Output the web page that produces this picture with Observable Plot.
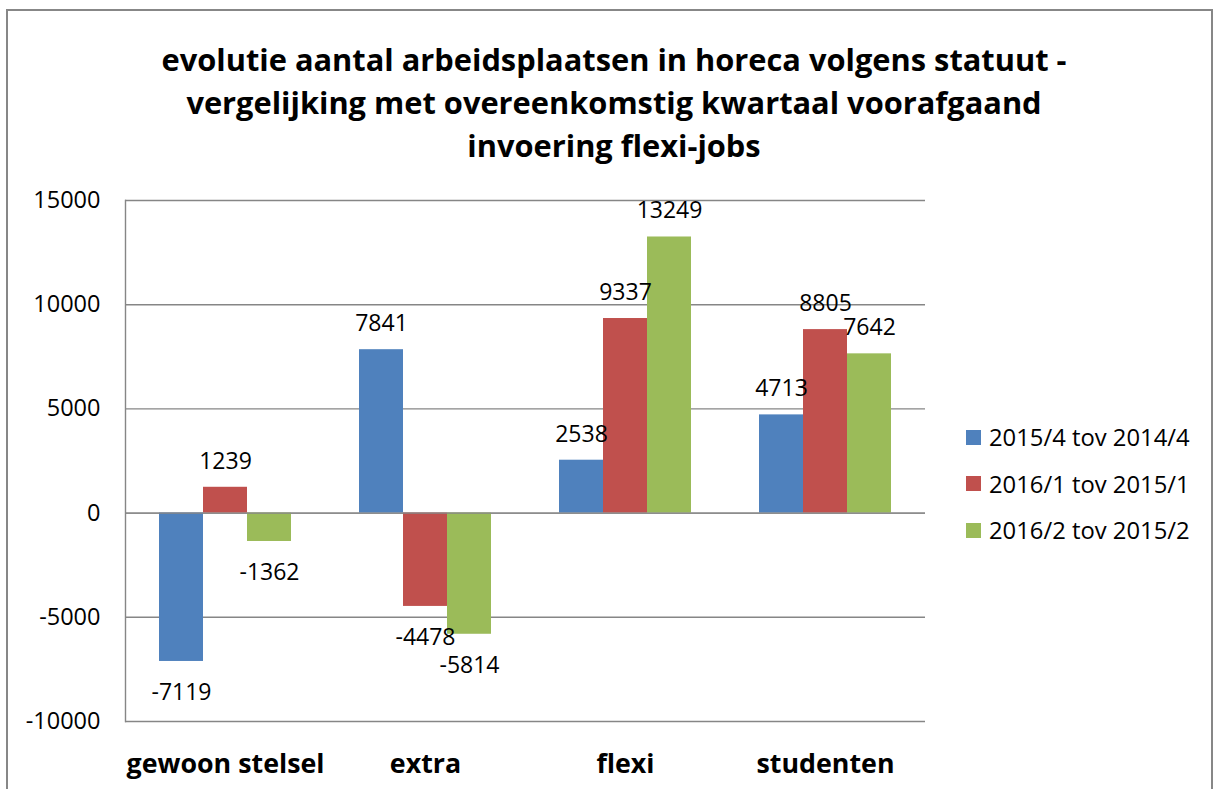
<!DOCTYPE html>
<html>
<head>
<meta charset="utf-8">
<script src="https://cdn.jsdelivr.net/npm/d3@7"></script>
<script src="https://cdn.jsdelivr.net/npm/@observablehq/plot@0.6"></script>
<style>
  html, body { margin: 0; padding: 0; background: #fff; width: 1221px; height: 789px; overflow: hidden; }
  body { font-family: "Open Sans", sans-serif; color: #000; }
  #box { position: absolute; left: 6px; top: 9px; width: 1207px; height: 900px;
         border: 2px solid #878787; border-bottom: none; box-sizing: border-box; }
  #title { position: absolute; left: 0; top: 38px; width: 1228px; text-align: center;
           font-weight: bold; font-size: 30.8px; line-height: 43px; }
  #chart { position: absolute; left: 0; top: 150px; }
  #legend { position: absolute; left: 966px; top: 414px; font-size: 23.8px; }
  .item { display: flex; align-items: center; height: 46.5px; }
  .sw { width: 15px; height: 15px; margin-right: 8px; }
</style>
</head>
<body>
<div id="box"></div>
<div id="title"></div>
<div id="chart"></div>
<div id="legend"></div>
<script>
const titleLines = [
  "evolutie aantal arbeidsplaatsen in horeca volgens statuut -",
  "vergelijking met overeenkomstig kwartaal voorafgaand",
  "invoering flexi-jobs"
];
const categories = ["gewoon stelsel", "extra", "flexi", "studenten"];
const seriesNames = ["2015/4 tov 2014/4", "2016/1 tov 2015/1", "2016/2 tov 2015/2"];
const seriesColors = ["#4F81BD", "#C0504D", "#9BBB59"];
const values2015q4 = [-7119, 7841, 2538, 4713];
const values2016q1 = [1239, -4478, 9337, 8805];
const values2016q2 = [-1362, -5814, 13249, 7642];
const yTicks = [-10000, -5000, 0, 5000, 10000, 15000];

const seriesValues = [values2015q4, values2016q1, values2016q2];
const data = [];
categories.forEach((c, i) => {
  seriesNames.forEach((s, j) => data.push({cat: c, series: s, value: seriesValues[j][i]}));
});

document.getElementById("title").innerHTML = titleLines.map(t => `<div>${t}</div>`).join("");
document.getElementById("legend").innerHTML = seriesNames.map((s, j) =>
  `<div class="item"><div class="sw" style="background:${seriesColors[j]}"></div><span>${s}</span></div>`).join("");

const gray = "#868686";
const chart = Plot.plot({
  width: 1221,
  height: 641,
  marginLeft: 125,
  marginRight: 296,
  marginTop: 50,
  marginBottom: 70,
  style: {fontFamily: "Open Sans, sans-serif", fontSize: "23px", color: "#000", background: "transparent"},
  fx: {domain: categories, padding: 0},
  x: {domain: seriesNames, paddingInner: 0, paddingOuter: 0.7727, axis: null},
  y: {domain: [-10000, 15000], axis: null},
  color: {domain: seriesNames, range: seriesColors},
  marks: [
    Plot.gridY(yTicks, {stroke: gray, strokeOpacity: 1, strokeWidth: 1.4}),
    Plot.barY(data, {fx: "cat", x: "series", y: "value", fill: "series"}),
    Plot.ruleY([0], {stroke: gray, strokeWidth: 1.4}),
    Plot.frame({anchor: "left", stroke: gray, strokeWidth: 1.4, facetAnchor: "left"}),
    Plot.text(data.filter(d => d.value >= 0), {fx: "cat", x: "series", y: "value", text: d => String(d.value), dy: -26, fill: "#000"}),
    Plot.text(data.filter(d => d.value < 0), {fx: "cat", x: "series", y: "value", text: d => String(d.value), dy: 31, fill: "#000"}),
    Plot.axisY(yTicks, {tickSize: 0, tickPadding: 25, tickFormat: d => String(d), fontSize: 23.5, label: null}),
    Plot.axisFx({anchor: "bottom", tickSize: 0, tickPadding: 32, fontSize: 26.8, fontWeight: "bold", label: null})
  ]
});
document.getElementById("chart").appendChild(chart);
</script>
</body>
</html>
